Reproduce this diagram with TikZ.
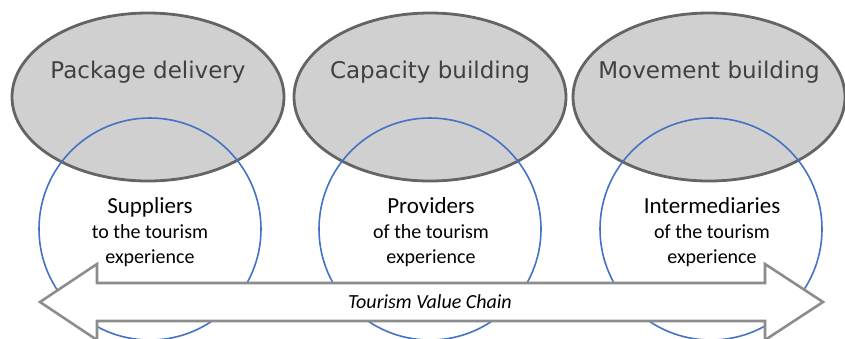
\documentclass[tikz,border=0pt]{standalone}
\usepackage{fontspec}
\setmainfont{Carlito}
\newfontfamily\bubblefont{DejaVu Sans}
\usetikzlibrary{shapes.geometric}
\definecolor{bubblefill}{HTML}{D0D0D0}
\definecolor{bubbleline}{HTML}{646464}
\definecolor{bubbletxt}{HTML}{404040}
\definecolor{ringblue}{HTML}{4472C4}
\definecolor{chaingray}{HTML}{8C8C8C}
\tikzset{
  bubble/.style={ellipse, draw=bubbleline, fill=bubblefill, line width=2.8pt,
    minimum width=272pt, minimum height=168pt, inner sep=0pt},
  bubbletext/.style={text=bubbletxt, font=\bubblefont\fontsize{23pt}{27pt}\selectfont},
  ring/.style={circle, draw=ringblue, line width=1.6pt, minimum size=222pt, inner sep=0pt},
  ringtext/.style={align=center, font=\fontsize{20pt}{25pt}\selectfont},
  chainarrow/.style={draw=chaingray, fill=white, line width=2.6pt, line join=miter},
}
\begin{document}
\begin{tikzpicture}[x=1pt, y=-1pt]
\useasboundingbox (0,0) rectangle (845,338);

% Ellipses
\node[bubble] (pkg) at (148,97) {};
\node[bubble] (cap) at (430,97) {};
\node[bubble] (mov) at (709,97) {};
\node[bubbletext] (pkgtext) at (148,72) {Package delivery};
\node[bubbletext] (captext) at (430,72) {Capacity building};
\node[bubbletext] (movtext) at (709,72) {Movement building};

% Circles
\node[ring] (sup) at (150,229) {};
\node[ring] (prov) at (430,229) {};
\node[ring] (inter) at (711,229) {};
\node[ringtext] (suptext) at (150,232) {{\fontsize{23pt}{25pt}\selectfont Suppliers}\\to the tourism\\experience};
\node[ringtext] (provtext) at (431,232) {{\fontsize{23pt}{25pt}\selectfont Providers}\\of the tourism\\experience};
\node[ringtext] (intertext) at (712,232) {{\fontsize{23pt}{25pt}\selectfont Intermediaries}\\of the tourism\\experience};

% Value chain arrow
\draw[chainarrow] (40,302) -- (97,264) -- (97,283) -- (765,283) -- (765,264)
  -- (823,302) -- (765,340) -- (765,321) -- (97,321) -- (97,340) -- cycle;
\node[font=\itshape\fontsize{20pt}{24pt}\selectfont] (chain) at (430,302) {Tourism Value Chain};
\end{tikzpicture}
\end{document}
